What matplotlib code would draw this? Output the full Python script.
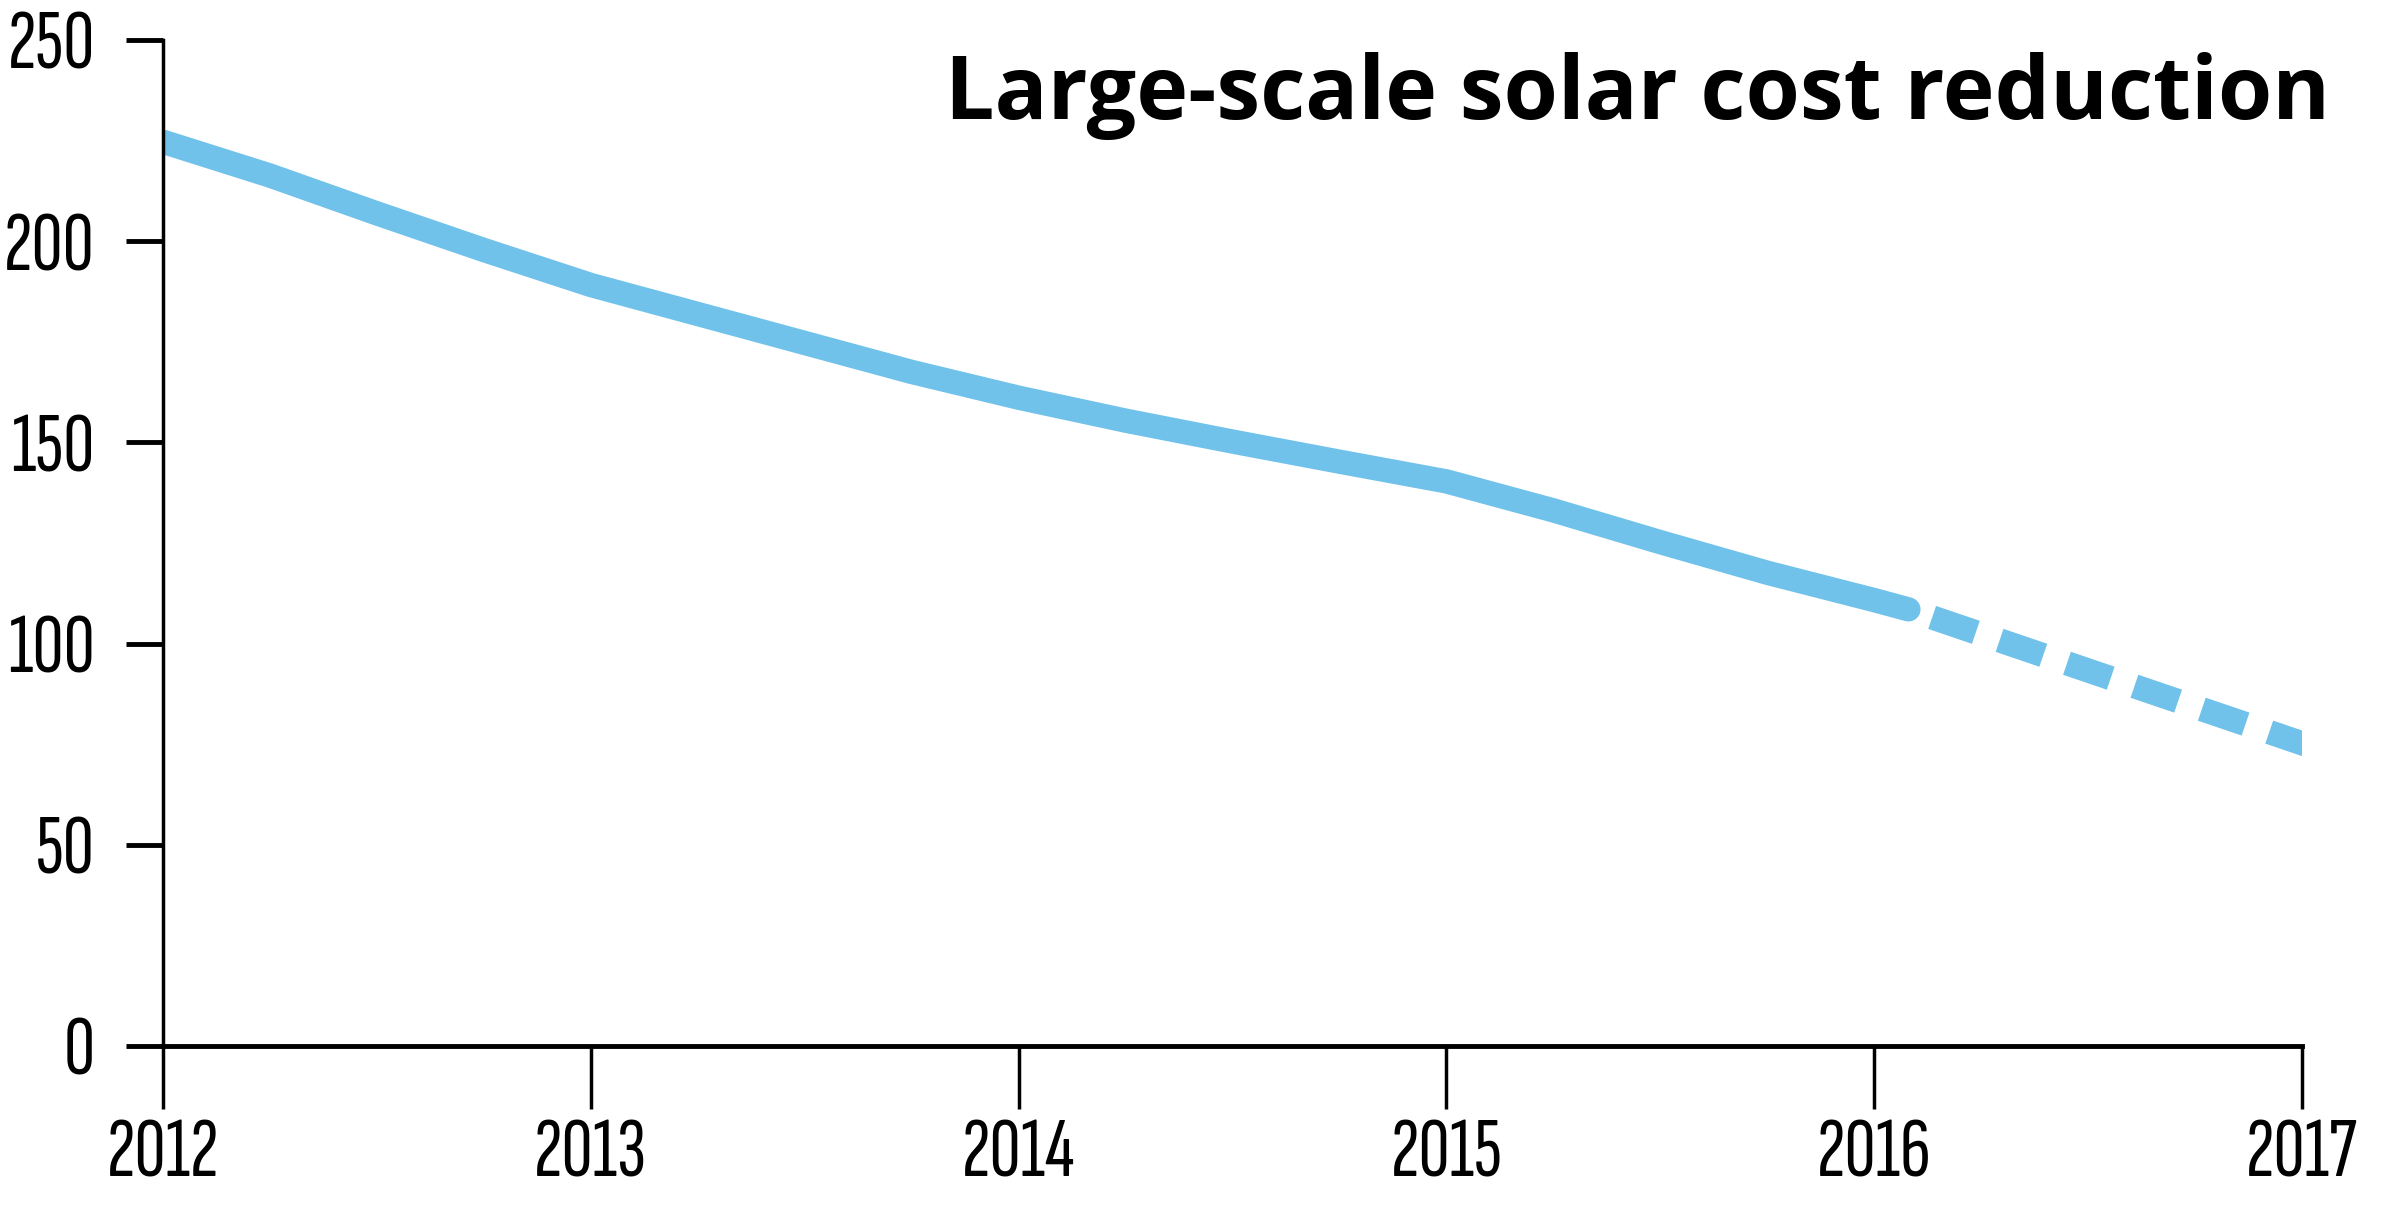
import matplotlib
matplotlib.use("Agg")
import matplotlib.pyplot as plt

years_actual = [2012.0, 2012.25, 2012.5, 2012.75, 2013.0, 2013.25, 2013.5, 2013.75,
                2014.0, 2014.25, 2014.5, 2014.75, 2015.0, 2015.25, 2015.5, 2015.75,
                2016.0, 2016.08]
cost_actual = [224.7, 216.3, 206.9, 197.8, 189.1, 181.9, 174.7, 167.5,
               161.1, 155.4, 150.2, 145.2, 140.3, 133.1, 125.2, 117.6,
               110.8, 108.5]

# dashed (projected) part
years_proj = [2016.08, 2017.02]
cost_proj = [108.5, 74.5]

year_ticks = [2012, 2013, 2014, 2015, 2016, 2017]
cost_ticks = [0, 50, 100, 150, 200, 250]

title = "Large-scale solar cost reduction"
line_color = "#70c2ea"

tick_font = ["Sofia Sans Extra Condensed", "Fira Sans Extra Condensed", "DejaVu Sans"]
title_font = ["Open Sans", "DejaVu Sans"]

fig = plt.figure(figsize=(23.87, 12.07), dpi=100)
ax = fig.add_axes([0.0683, 0.1334, 0.9644 - 0.0683, 0.9669 - 0.1334])

ax.plot(years_actual, cost_actual, color=line_color, lw=17.5,
        solid_capstyle="round", solid_joinstyle="round")
ax.plot(years_proj, cost_proj, color=line_color, lw=17.5,
        linestyle=(1.9, (1.9, 1.03)), dash_capstyle="butt")

ax.set_xlim(2012, 2017)
ax.set_ylim(0, 250)
ax.set_xticks(year_ticks)
ax.set_yticks(cost_ticks)
ax.set_xticklabels([str(y) for y in year_ticks], family=tick_font,
                   fontweight=300, fontsize=62)
ax.set_yticklabels([str(c) for c in cost_ticks], family=tick_font,
                   fontweight=300, fontsize=62)

ax.spines["top"].set_visible(False)
ax.spines["right"].set_visible(False)
ax.spines["left"].set_linewidth(2.5)
ax.spines["bottom"].set_linewidth(3.5)
ax.tick_params(axis="x", length=45, width=2.5, pad=7, direction="out")
ax.tick_params(axis="y", length=27, width=3.5, pad=22, direction="out")
for sp in ax.spines.values():
    sp.set_clip_on(False)

fig.text(0.976, 0.9015, title, ha="right", va="baseline",
         family=title_font, fontweight="bold", fontsize=63.2)

plt.savefig("out.png", dpi=100)
